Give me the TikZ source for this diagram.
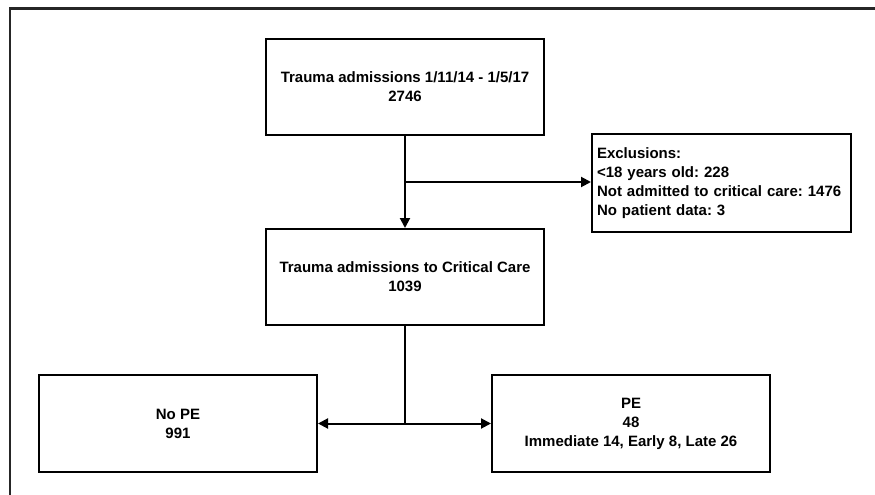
\documentclass[tikz,border=0pt]{standalone}
\usepackage{fontspec}
\setmainfont{Liberation Sans}
\usetikzlibrary{arrows.meta}

\begin{document}
\begin{tikzpicture}[x=1pt,y=-1pt,
  stagebox/.style={draw,line width=2pt,minimum width=278pt,minimum height=96pt,align=center,font=\bfseries\fontsize{15}{19}\selectfont\frenchspacing},
  flow/.style={line width=2pt,-{Triangle[length=10pt,width=10pt]}}]
\useasboundingbox (0,0) rectangle (875,495);
\draw[line width=2.2pt,black!85] (9.8,495) -- (9.8,8.5) -- (875,8.5);

%Boxes of the flow chart
\node[stagebox] (adm) at (405,87) {Trauma admissions 1/11/14 - 1/5/17\\2746};
\node[stagebox] (cc) at (405,277) {Trauma admissions to Critical Care\\1039};
\node[stagebox,minimum width=0pt,text width=249pt,inner sep=5pt,minimum height=98pt,align=left] (excl) at (721.5,183)
  {Exclusions:\\<18 years old: 228\\Not admitted to critical care: 1476\\No patient data: 3};
\node[stagebox,minimum height=97pt] (nope) at (178,423.5) {No PE\\991};
\node[stagebox,minimum height=97pt] (pe) at (631,423.5) {PE\\48\\Immediate 14, Early 8, Late 26};

%Connectors
\coordinate (split) at (405,182);
\coordinate (fork) at (405,423.5);
\draw[flow] (adm) -- (cc);
\draw[flow] (split) -- (split -| excl.west);
\draw[line width=2pt] (cc) -- (fork);
\draw[flow,{Triangle[length=10pt,width=10pt]}-{Triangle[length=10pt,width=10pt]}] (nope) -- (pe);

\end{tikzpicture}
\end{document}
